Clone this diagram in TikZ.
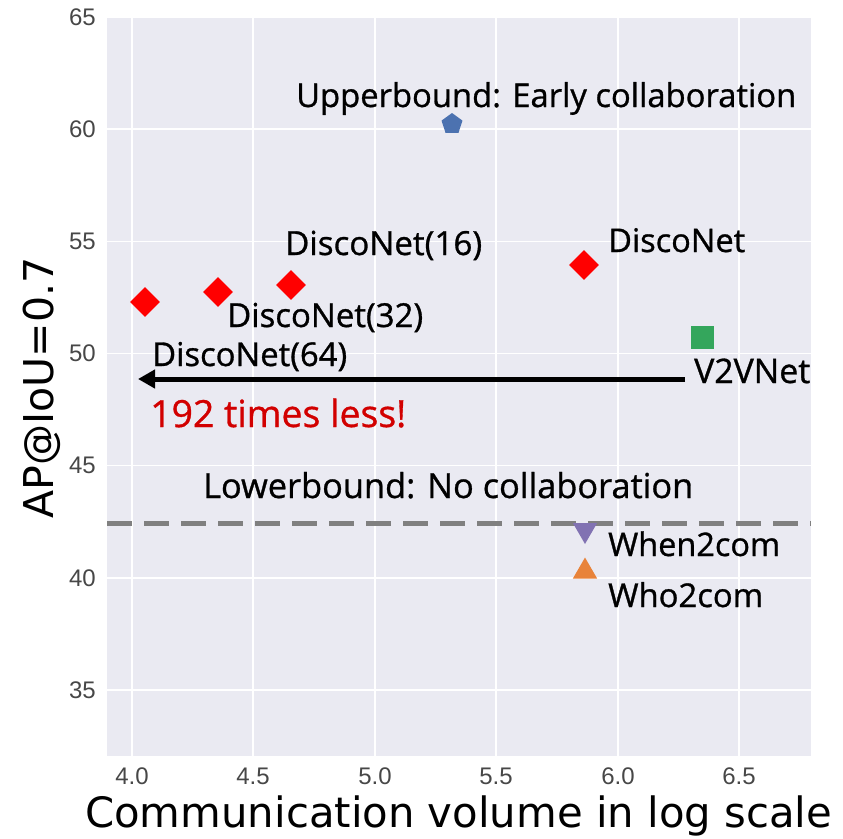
\documentclass[tikz,border=0pt]{standalone}
\usepackage{fontspec}
\usepackage{graphicx}
\usetikzlibrary{shapes.geometric,arrows.meta}
\newfontfamily\annfont[FakeBold=0.9]{Open Sans}
\newfontfamily\tickfont{Liberation Sans}
\newfontfamily\labfont{DejaVu Sans}
\definecolor{bgc}{HTML}{EAEAF2}
\definecolor{mkblue}{HTML}{4C72B0}
\definecolor{mkgreen}{RGB}{52,166,92}
\definecolor{mkpurple}{HTML}{8172B2}
\definecolor{mkorange}{HTML}{E8833A}
\definecolor{dashgray}{HTML}{808080}
\definecolor{lessred}{RGB}{210,0,0}
\newcommand{\fitw}[2]{\resizebox{#1pt}{!}{#2}}
\tikzset{
  gridline/.style={white, line width=1.5pt},
  ytick/.style={anchor=east, inner sep=0pt, font=\tickfont\fontsize{24}{24}\selectfont, text=black!72},
  xtick/.style={anchor=center, inner sep=0pt, font=\tickfont\fontsize{24}{24}\selectfont, text=black!72},
  ann/.style={anchor=base west, inner sep=0pt, font=\annfont\fontsize{29}{29}\selectfont},
  dmark/.style={diamond, fill=red, minimum width=30pt, minimum height=30pt, inner sep=0pt, aspect=1},
}
\begin{document}
\begin{tikzpicture}[x=1pt,y=-1pt]
\useasboundingbox (0,0) rectangle (843,838);
\fill[bgc] (107,17) rectangle (811,756);
% grid
\foreach \gx in {132,253,375,496,618,739}
  \draw[gridline] (\gx,17) -- (\gx,756);
\foreach \gy in {17,129.2,241.3,353.5,465.7,577.8,690}
  \draw[gridline] (107,\gy) -- (811,\gy);
% y tick labels
\node[ytick] (y65) at (96,17) {65};
\node[ytick] (y60) at (96,129.2) {60};
\node[ytick] (y55) at (96,241.3) {55};
\node[ytick] (y50) at (96,353.5) {50};
\node[ytick] (y45) at (96,465.7) {45};
\node[ytick] (y40) at (96,577.8) {40};
\node[ytick] (y35) at (96,690) {35};
% x tick labels
\node[xtick] (x40) at (132,776) {4.0};
\node[xtick] (x45) at (253,776) {4.5};
\node[xtick] (x50) at (375,776) {5.0};
\node[xtick] (x55) at (496,776) {5.5};
\node[xtick] (x60) at (618,776) {6.0};
\node[xtick] (x65) at (739,776) {6.5};
% axis labels
\node[anchor=base west, inner sep=0pt] (xlab) at (85,827) {\fitw{747}{\labfont\fontsize{40}{40}\selectfont Communication volume in log scale}};
\node[rotate=90, anchor=base, inner sep=0pt] (ylab) at (53,388) {\fitw{261}{\labfont\fontsize{40}{40}\selectfont AP@IoU=0.7}};
% lowerbound dashed line
\coordinate (lbA) at (107,523);
\coordinate (lbB) at (811,523);
\draw[dashgray, line width=5pt, dash pattern=on 25pt off 12pt] (lbA) -- (lbB);
% arrow
\coordinate (arS) at (685,379);
\coordinate (arE) at (138,379);
\draw[black, line width=5pt, -{Triangle[length=17pt,width=18pt]}] (arS) -- (arE);
% markers
\node[dmark] (d64) at (145,302) {};
\node[dmark] (d32) at (218,292) {};
\node[dmark] (d16) at (291,285) {};
\node[dmark] (dfull) at (584,265) {};
\node[regular polygon, regular polygon sides=5, fill=mkblue, minimum size=22pt, inner sep=0pt] (ub) at (452,124) {};
\node[rectangle, fill=mkgreen, minimum size=23pt, inner sep=0pt] (v2v) at (702,337) {};
\node[regular polygon, regular polygon sides=3, shape border rotate=180, fill=mkpurple, minimum size=28pt, inner sep=0pt] (w2c) at (585,530) {};
\node[regular polygon, regular polygon sides=3, fill=mkorange, minimum size=28pt, inner sep=0pt] (wh2c) at (585,571.5) {};
% annotations
\node[ann] (tub) at (296,107) {\fitw{500}{Upperbound: Early collaboration}};
\node[ann] (t16) at (285,255) {\fitw{197}{DiscoNet(16)}};
\node[ann] (tfull) at (608,252) {\fitw{137}{DiscoNet}};
\node[ann] (t32) at (227,327) {\fitw{196}{DiscoNet(32)}};
\node[ann] (t64) at (152,366) {\fitw{195}{DiscoNet(64)}};
\node[ann, text=lessred] (tless) at (150,427) {\fitw{256}{192 times less!}};
\node[ann] (tv2v) at (694,383) {\fitw{116}{V2VNet}};
\node[ann] (tlb) at (203,498) {\fitw{490}{Lowerbound: No collaboration}};
\node[ann] (tw2c) at (608,556) {\fitw{172}{When2com}};
\node[ann] (twh2c) at (608,607) {\fitw{155}{Who2com}};
\end{tikzpicture}
\end{document}
